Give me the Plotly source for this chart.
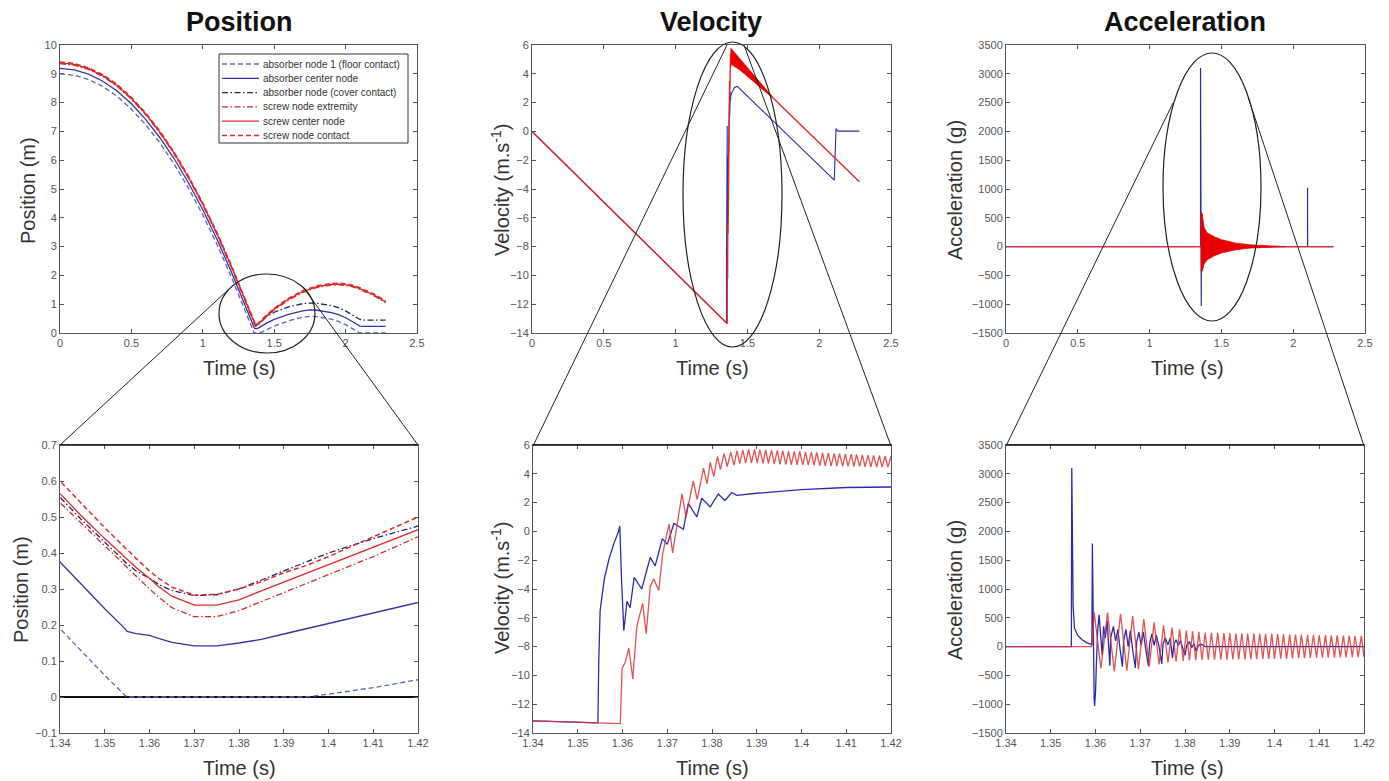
import plotly.graph_objects as go

W, H = 1389, 781
FONT = "Liberation Sans, Arial, sans-serif"


def px(x):
    return x / W


def py(y):
    return 1 - y / H


# ---------------- Position data (m) ----------------
t_pos = [0.0, 0.1, 0.2, 0.3, 0.4, 0.5, 0.6, 0.7, 0.8, 0.9, 1.0, 1.1, 1.2, 1.3, 1.33,
         1.34, 1.345, 1.35, 1.3545, 1.355, 1.357, 1.36, 1.362, 1.365, 1.37, 1.375, 1.38,
         1.385, 1.39, 1.395, 1.40, 1.41, 1.42, 1.45, 1.5, 1.6, 1.7, 1.75, 1.8, 1.9, 1.95,
         2.0, 2.05, 2.1, 2.12, 2.2, 2.28]

pos_absorber_node1 = [9.00, 8.95, 8.80, 8.56, 8.22, 7.77, 7.23, 6.60, 5.86, 5.03, 4.10, 3.07, 1.94, 0.71, 0.32,
                      0.19, 0.125, 0.06, 0.005, 0.0, 0.0, 0.0, 0.0, 0.0, 0.0, 0.0, 0.0,
                      0.0, 0.0, 0.0, 0.008, 0.026, 0.048, 0.12, 0.24, 0.42, 0.55, 0.58, 0.57, 0.48, 0.40,
                      0.29, 0.15, 0.0, 0.0, 0.0, 0.0]
pos_absorber_center = [9.19, 9.14, 8.99, 8.74, 8.40, 7.96, 7.42, 6.78, 6.05, 5.21, 4.28, 3.25, 2.12, 0.89, 0.51,
                       0.375, 0.31, 0.245, 0.19, 0.182, 0.176, 0.171, 0.163, 0.152, 0.142, 0.142, 0.150,
                       0.160, 0.175, 0.19, 0.205, 0.236, 0.267, 0.35, 0.47, 0.65, 0.77, 0.80, 0.79, 0.71, 0.64,
                       0.53, 0.39, 0.24, 0.23, 0.23, 0.23]
pos_absorber_cover = [9.37, 9.32, 9.17, 8.92, 8.58, 8.14, 7.60, 6.96, 6.23, 5.39, 4.46, 3.43, 2.30, 1.07, 0.69,
                      0.555, 0.49, 0.43, 0.375, 0.37, 0.35, 0.33, 0.313, 0.296, 0.282, 0.284, 0.30,
                      0.325, 0.35, 0.375, 0.40, 0.44, 0.475, 0.58, 0.72, 0.91, 1.02, 1.04, 1.03, 0.95, 0.88,
                      0.77, 0.63, 0.47, 0.45, 0.45, 0.45]
pos_screw_extremity = [9.35, 9.30, 9.15, 8.91, 8.57, 8.12, 7.58, 6.95, 6.21, 5.38, 4.45, 3.42, 2.29, 1.06, 0.67,
                       0.54, 0.48, 0.42, 0.365, 0.36, 0.335, 0.30, 0.278, 0.248, 0.223, 0.223, 0.24,
                       0.265, 0.29, 0.315, 0.34, 0.39, 0.445, 0.58, 0.80, 1.14, 1.41, 1.50, 1.58, 1.66, 1.67,
                       1.65, 1.60, 1.51, 1.47, 1.29, 1.05]
pos_screw_center = [9.38, 9.33, 9.18, 8.93, 8.59, 8.15, 7.61, 6.97, 6.24, 5.40, 4.47, 3.44, 2.31, 1.08, 0.70,
                    0.565, 0.50, 0.44, 0.39, 0.385, 0.36, 0.33, 0.307, 0.28, 0.255, 0.255, 0.27,
                    0.295, 0.32, 0.345, 0.37, 0.42, 0.47, 0.61, 0.83, 1.17, 1.44, 1.53, 1.61, 1.69, 1.70,
                    1.68, 1.63, 1.54, 1.50, 1.32, 1.08]
pos_screw_contact = [9.41, 9.36, 9.21, 8.97, 8.63, 8.18, 7.64, 7.01, 6.27, 5.44, 4.51, 3.48, 2.35, 1.12, 0.73,
                     0.60, 0.535, 0.47, 0.415, 0.41, 0.385, 0.35, 0.33, 0.305, 0.283, 0.285, 0.30,
                     0.32, 0.345, 0.365, 0.39, 0.445, 0.50, 0.64, 0.86, 1.20, 1.47, 1.56, 1.64, 1.72, 1.73,
                     1.71, 1.66, 1.57, 1.53, 1.35, 1.11]

pos_names = ["absorber node 1 (floor contact)", "absorber center node",
             "absorber node (cover contact)", "screw node extremity",
             "screw center node", "screw node contact"]

# ---------------- Velocity data (m/s) ----------------
vel_blue_t = [0.0, 1.34, 1.3545, 1.3547, 1.3550, 1.3555, 1.3560, 1.3570, 1.3580, 1.3590, 1.3594,
              1.3598, 1.3603, 1.3610, 1.3617, 1.3626, 1.3643, 1.3662, 1.3673, 1.3689, 1.3700,
              1.3715, 1.3736, 1.3747, 1.3766, 1.3777, 1.3796, 1.3814, 1.3829, 1.3844, 1.3855,
              1.3900, 1.4000, 1.4100, 1.4200, 1.4300, 2.1050, 2.1170, 2.1300, 2.2800]
vel_blue_v = [0.0, -13.14, -13.30, -9.0, -5.5, -4.3, -3.2, -1.9, -0.9, -0.1, 0.37,
              -3.5, -6.9, -4.85, -5.3, -3.2, -4.0, -1.8, -2.4, -0.5, -0.9,
              0.55, 0.15, 1.95, 1.0, 2.3, 1.7, 2.6, 2.15, 2.7, 2.5,
              2.65, 2.9, 3.05, 3.10, 3.12, -3.39, 0.20, 0.02, 0.02]

vel_red_t = [0.0, 1.34, 1.3595, 1.3599, 1.3606, 1.3614, 1.3623, 1.3632, 1.3645, 1.3653, 1.3662,
             1.3670, 1.3681, 1.3690, 1.3704, 1.3712, 1.3733, 1.3742, 1.3758, 1.3767, 1.3781,
             1.3789, 1.3796, 1.3804, 1.3812, 1.3819, 1.3827, 1.3834, 1.3842, 1.3849, 1.3856,
             1.3862, 1.3869, 1.3875, 1.3882, 1.3888, 1.3895, 1.3901, 1.3907, 1.3914, 1.3920,
             1.3926, 1.3933, 1.3939, 1.3946, 1.3952, 1.3958, 1.3965, 1.3971, 1.3977, 1.3984,
             1.3990, 1.3996, 1.4003, 1.4009, 1.4015, 1.4022, 1.4028, 1.4034, 1.4041, 1.4047,
             1.4053, 1.4060, 1.4066, 1.4073, 1.4079, 1.4085, 1.4092, 1.4098, 1.4104, 1.4111,
             1.4117, 1.4123, 1.4130, 1.4136, 1.4142, 1.4149, 1.4155, 1.4161, 1.4168, 1.4174,
             1.4180, 1.4187, 1.4193, 1.4200, 1.6500, 2.2800]
vel_red_v = [0.0, -13.14, -13.35, -9.5, -9.1, -8.1, -10.25, -6.6, -5.0, -7.1, -3.8,
             -3.3, -4.1, -1.5, 0.5, -1.5, 2.6, 1.0, 3.5, 2.2, 4.4,
             3.3, 4.8, 3.8, 5.2, 4.3, 5.4, 4.5, 5.5, 4.6, 5.6,
             4.7, 5.65, 4.75, 5.7, 4.75, 5.7, 4.75, 5.68, 4.72, 5.66,
             4.70, 5.65, 4.68, 5.62, 4.66, 5.60, 4.65, 5.58, 4.63, 5.56,
             4.62, 5.55, 4.60, 5.52, 4.60, 5.50, 4.58, 5.48, 4.56, 5.46,
             4.55, 5.44, 4.54, 5.42, 4.53, 5.40, 4.52, 5.38, 4.51, 5.36,
             4.50, 5.34, 4.50, 5.32, 4.49, 5.30, 4.48, 5.28, 4.47, 5.26,
             4.46, 5.24, 4.45, 5.20, 2.60, -3.50]

# envelope of the dense red oscillation seen at full time scale
vel_band_t = [1.383, 1.40, 1.42, 1.45, 1.50, 1.55, 1.60, 1.65, 1.67]
vel_band_hi = [5.80, 5.60, 5.35, 5.00, 4.45, 3.90, 3.30, 2.70, 2.45]
vel_band_lo = [4.65, 4.60, 4.45, 4.25, 3.85, 3.40, 2.95, 2.55, 2.40]

# ---------------- Acceleration data (g) ----------------
acc_blue_t = [0.0, 1.3546, 1.3547, 1.3550, 1.3553, 1.3560, 1.3570, 1.3580, 1.3590, 1.3592,
              1.3593, 1.3595, 1.3597, 1.3598, 1.3600, 1.3602, 1.3605, 1.3608, 1.3612, 1.3615,
              1.3618, 1.3622, 1.3626, 1.3630, 1.3632, 1.3634, 1.3640, 1.3645, 1.3650, 1.3655,
              1.3660, 1.3663, 1.3668, 1.3673, 1.3678, 1.3683, 1.3689, 1.3692, 1.3697, 1.3702,
              1.3707, 1.3712, 1.3718, 1.3721, 1.3726, 1.3731, 1.3736, 1.3742, 1.3748, 1.3751,
              1.3756, 1.3762, 1.3767, 1.3772, 1.3775, 1.3780, 1.3785, 1.3790, 1.3795, 1.3800,
              1.3804, 1.3810, 1.3815, 1.3820, 1.3825, 1.3830, 1.3836, 1.3845, 2.0999, 2.1000,
              2.1005, 2.2800]
acc_blue_a = [0, 0, 3100, 700, 320, 200, 120, 70, 40, 30,
              1790, -300, -900, -1030, -800, -300, 300, 550, 100, -150,
              350, 150, 450, 0, -330, 150, 350, 100, 300, -50,
              -350, 100, 300, 0, 280, -50, -370, 80, 250, 20,
              250, -30, -330, 60, 220, 20, 200, 0, -300, 50,
              150, 30, 150, -200, 30, 120, 20, 100, -20, -150,
              30, 80, -20, 50, -80, 20, 40, 0, 0, 1020,
              0, 0]

acc_red_t = [0.0, 1.3592, 1.3597, 1.3612, 1.3627, 1.3642, 1.3656, 1.3670, 1.3683, 1.3696,
             1.3708, 1.3720, 1.3731, 1.3742, 1.3752, 1.3762, 1.3771, 1.3780, 1.3788, 1.3796,
             1.3803, 1.3810, 1.3817, 1.3824, 1.3831, 1.3838, 1.3845, 1.3852, 1.3859, 1.3866,
             1.3873, 1.3880, 1.3887, 1.3894, 1.3900, 1.3907, 1.3914, 1.3920, 1.3927, 1.3934,
             1.3940, 1.3947, 1.3954, 1.3960, 1.3967, 1.3974, 1.3980, 1.3987, 1.3994, 1.4000,
             1.4007, 1.4014, 1.4020, 1.4027, 1.4034, 1.4040, 1.4047, 1.4054, 1.4060, 1.4067,
             1.4074, 1.4080, 1.4087, 1.4094, 1.4100, 1.4107, 1.4114, 1.4120, 1.4127, 1.4134,
             1.4140, 1.4147, 1.4154, 1.4160, 1.4167, 1.4174, 1.4180, 1.4187, 1.4194, 1.4200,
             1.4210, 2.2800]
acc_red_a = [0, 0, 600, -380, 590, -430, 570, -420, 530, -390,
             480, -350, 420, -310, 370, -280, 330, -260, 300, -250,
             280, -240, 265, -235, 255, -230, 245, -230, 240, -228,
             238, -226, 235, -225, 233, -224, 232, -223, 230, -222,
             228, -220, 226, -218, 224, -216, 222, -214, 220, -212,
             218, -210, 215, -208, 212, -205, 210, -203, 207, -200,
             205, -198, 203, -196, 200, -194, 198, -192, 196, -190,
             194, -188, 192, -186, 190, -184, 188, -182, 186, -180,
             0, 0]

# envelope of the dense red oscillation seen at full time scale
acc_band_t = [1.3592, 1.3597, 1.365, 1.37, 1.38, 1.40, 1.45, 1.50, 1.55, 1.60, 1.70, 1.80, 1.90, 1.95]
acc_band_hi = [0, 600, 570, 500, 330, 240, 170, 120, 90, 60, 30, 12, 4, 0]
acc_band_lo = [0, -450, -440, -400, -300, -230, -160, -110, -80, -55, -25, -10, -3, 0]

# ---------------- Styling ----------------
BLUE = "#2b2bb0"
BLUE_D = "#23236e"
BLUE_M = "#3434a8"
BLUE_L = "#5a62c8"
RED = "#e02a2a"
RED_S = "rgba(222,50,50,0.85)"
DASH = "5px,3px"
DASHDOT = "6px,2.5px,1.5px,2.5px"

pos_styles = [
    (BLUE_L, DASH, 1.3),
    (BLUE_M, "solid", 1.3),
    (BLUE_D, DASHDOT, 1.3),
    (RED, DASHDOT, 1.3),
    (RED, "solid", 1.3),
    (RED, DASH, 1.5),
]
pos_values = [pos_absorber_node1, pos_absorber_center, pos_absorber_cover,
              pos_screw_extremity, pos_screw_center, pos_screw_contact]

fig = go.Figure()

for xa, ya in (("x", "y"), ("x4", "y4")):
    for name, vals, (col, dash, w) in zip(pos_names, pos_values, pos_styles):
        fig.add_trace(go.Scatter(x=t_pos, y=vals, name=name, mode="lines",
                                 line=dict(color=col, dash=dash, width=w),
                                 xaxis=xa, yaxis=ya, showlegend=False))

# velocity top
fig.add_trace(go.Scatter(x=vel_blue_t, y=vel_blue_v, mode="lines", line=dict(color=BLUE, width=1.1),
                         xaxis="x2", yaxis="y2", showlegend=False))
fig.add_trace(go.Scatter(x=vel_red_t, y=vel_red_v, mode="lines", line=dict(color=RED, width=1.4),
                         xaxis="x2", yaxis="y2", showlegend=False))
fig.add_trace(go.Scatter(x=vel_band_t + vel_band_t[::-1], y=vel_band_hi + vel_band_lo[::-1],
                         mode="lines", fill="toself", fillcolor="#e80000",
                         line=dict(color="#e80000", width=0.8),
                         xaxis="x2", yaxis="y2", showlegend=False))
# velocity bottom
fig.add_trace(go.Scatter(x=vel_blue_t, y=vel_blue_v, mode="lines", line=dict(color=BLUE, width=1.3),
                         xaxis="x5", yaxis="y5", showlegend=False))
fig.add_trace(go.Scatter(x=vel_red_t, y=vel_red_v, mode="lines", line=dict(color=RED_S, width=1.3),
                         xaxis="x5", yaxis="y5", showlegend=False))

# acceleration top
fig.add_trace(go.Scatter(x=acc_blue_t, y=acc_blue_a, mode="lines", line=dict(color=BLUE, width=1.2),
                         xaxis="x3", yaxis="y3", showlegend=False))
fig.add_trace(go.Scatter(x=acc_red_t, y=acc_red_a, mode="lines", line=dict(color=RED, width=1.2),
                         xaxis="x3", yaxis="y3", showlegend=False))
fig.add_trace(go.Scatter(x=acc_band_t + acc_band_t[::-1], y=acc_band_hi + acc_band_lo[::-1],
                         mode="lines", fill="toself", fillcolor="#e80000",
                         line=dict(color="#e80000", width=0.8),
                         xaxis="x3", yaxis="y3", showlegend=False))
# acceleration bottom
fig.add_trace(go.Scatter(x=acc_blue_t, y=acc_blue_a, mode="lines", line=dict(color=BLUE, width=1.3),
                         xaxis="x6", yaxis="y6", showlegend=False))
fig.add_trace(go.Scatter(x=acc_red_t, y=acc_red_a, mode="lines", line=dict(color=RED_S, width=1.3),
                         xaxis="x6", yaxis="y6", showlegend=False))


def ax(domain, anchor, **kw):
    d = dict(domain=domain, anchor=anchor, showline=True, linecolor="#555", linewidth=1,
             mirror="allticks", ticks="inside", ticklen=4, tickcolor="#555",
             tickfont=dict(size=11, color="#555", family=FONT),
             showgrid=False, zeroline=False, automargin=False)
    d.update(kw)
    return d


top_y = [py(333), py(45)]
bot_y = [py(733), py(445)]
t_ticks = [0, 0.5, 1, 1.5, 2, 2.5]
t_text = ["0", "0.5", "1", "1.5", "2", "2.5"]
z_ticks = [1.34, 1.35, 1.36, 1.37, 1.38, 1.39, 1.40, 1.41, 1.42]
z_text = ["1.34", "1.35", "1.36", "1.37", "1.38", "1.39", "1.4", "1.41", "1.42"]

fig.update_layout(
    width=W, height=H, margin=dict(l=0, r=0, t=0, b=0, pad=0, autoexpand=False),
    paper_bgcolor="white", plot_bgcolor="white",
    font=dict(family=FONT),
    showlegend=False,
    xaxis=ax([px(60), px(417)], "y", range=[0, 2.5], tickvals=t_ticks, ticktext=t_text),
    yaxis=ax(top_y, "x", range=[0, 10], dtick=1),
    xaxis2=ax([px(532), px(891)], "y2", range=[0, 2.5], tickvals=t_ticks, ticktext=t_text),
    yaxis2=ax(top_y, "x2", range=[-14, 6], dtick=2),
    xaxis3=ax([px(1006), px(1365)], "y3", range=[0, 2.5], tickvals=t_ticks, ticktext=t_text),
    yaxis3=ax(top_y, "x3", range=[-1500, 3500], dtick=500),
    xaxis4=ax([px(60), px(418)], "y4", range=[1.34, 1.42], tickvals=z_ticks, ticktext=z_text),
    yaxis4=ax(bot_y, "x4", range=[-0.1, 0.7], dtick=0.1, zeroline=True, zerolinecolor="#111",
              zerolinewidth=1.5),
    xaxis5=ax([px(533), px(891)], "y5", range=[1.34, 1.42], tickvals=z_ticks, ticktext=z_text),
    yaxis5=ax(bot_y, "x5", range=[-14, 6], dtick=2),
    xaxis6=ax([px(1006), px(1364)], "y6", range=[1.34, 1.42], tickvals=z_ticks, ticktext=z_text),
    yaxis6=ax(bot_y, "x6", range=[-1500, 3500], dtick=500),
)

annotations = []


def label(text, x, y, size, angle=0, color="#333", anchor="center"):
    annotations.append(dict(text=text, x=px(x), y=py(y), xref="paper", yref="paper",
                            xanchor=anchor, yanchor="middle", showarrow=False,
                            textangle=angle, font=dict(size=size, color=color, family=FONT)))


label("<b>Position</b>", 240, 22, 27, color="#111")
label("<b>Velocity</b>", 711, 22, 27, color="#111")
label("<b>Acceleration</b>", 1185, 22, 27, color="#111")
for xc in (240, 713, 1187):
    label("Time (s)", xc, 368, 20)
    label("Time (s)", xc, 768, 20)
label("Position (m)", 28, 190, 20, angle=-90)
label("Velocity (m.s<sup>-1</sup>)", 500, 190, 20, angle=-90)
label("Acceleration (g)", 955, 190, 20, angle=-90)
label("Position (m)", 21, 590, 20, angle=-90)
label("Velocity (m.s<sup>-1</sup>)", 500, 588, 20, angle=-90)
label("Acceleration (g)", 955, 590, 20, angle=-90)

shapes = []


def ellipse(x0, x1, y0, y1):
    shapes.append(dict(type="circle", xref="paper", yref="paper", x0=px(x0), x1=px(x1),
                       y0=py(y1), y1=py(y0), line=dict(color="#222", width=1.2), layer="above"))


def seg(x0, y0, x1, y1, w=1.0, c="#222", dash="solid"):
    shapes.append(dict(type="line", xref="paper", yref="paper", x0=px(x0), y0=py(y0),
                       x1=px(x1), y1=py(y1), line=dict(color=c, width=w, dash=dash), layer="above"))


# legend box (drawn to match the compact MATLAB legend)
shapes.append(dict(type="rect", xref="paper", yref="paper", x0=px(219), x1=px(408),
                   y0=py(143), y1=py(54), line=dict(color="#333", width=1),
                   fillcolor="white", layer="above"))
for i, (name, (col, dash, w)) in enumerate(zip(pos_names, pos_styles)):
    yy = 64 + i * 14.3
    seg(222, yy, 259, yy, w=w, c=col, dash=dash)
    label(name, 261, yy, 10, color="#333", anchor="left")

ellipse(219, 315, 274, 353)
seg(60, 445, 228, 290)
seg(418, 445, 303, 287)
ellipse(683, 782, 42, 347)
seg(533, 446, 727, 45)
seg(891, 446, 744, 45)
ellipse(1163, 1261, 53, 321)
seg(1006, 446, 1173, 103)
seg(1364, 446, 1248, 97)
seg(60, 445, 418, 445, 1.6, "#111")
seg(533, 445, 891, 445, 1.6, "#111")
seg(1006, 445, 1364, 445, 1.6, "#111")

fig.update_layout(shapes=shapes, annotations=annotations)

fig.write_html("out.html", config={"displayModeBar": False},
               post_script="document.body.style.margin='0px';document.body.style.overflow='hidden';")
